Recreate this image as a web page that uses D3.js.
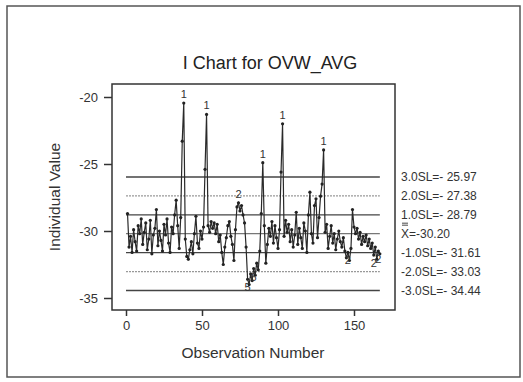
<!DOCTYPE html>
<html>
<head>
<meta charset="utf-8">
<script src="https://cdn.jsdelivr.net/npm/d3@7"></script>
<style>
  html, body { margin: 0; padding: 0; background: #fff; }
  svg { display: block; font-family: "Liberation Sans", Arial, sans-serif; }
</style>
</head>
<body>
<script>
const values = [
  -28.7, -31.2, -30.4, -31.6, -29.9, -30.8, -31.5, -29.6, -30.2, -29.1,
  -31.0, -30.1, -29.4, -31.4, -30.6, -29.2, -31.7, -30.3, -29.8, -28.4,
  -31.1, -30.0, -30.7, -31.5, -29.5, -30.3, -29.1, -30.9, -31.6, -29.7,
  -30.2, -28.8, -27.7, -29.6, -31.3, -29.0, -23.3, -20.45, -30.6, -31.9,
  -32.1, -31.4, -30.8, -31.7, -30.2, -28.9, -30.9, -31.3, -30.0, -30.6,
  -29.7, -25.4, -21.3, -29.6, -30.1, -29.3, -29.8, -29.4, -30.2, -29.5,
  -30.8, -30.3, -31.6, -32.5, -31.2, -30.5, -29.6, -29.3, -30.4, -31.0,
  -32.2, -29.9, -28.2, -27.9, -28.5, -28.1, -28.8, -29.4, -31.2, -33.6,
  -34.0, -33.2, -33.7, -32.8, -33.3, -32.4, -32.9, -31.5, -28.7, -24.9,
  -29.6, -32.4, -31.0, -29.8, -30.4, -29.3, -30.9, -29.6, -30.5, -31.3,
  -29.9, -25.6, -22.0, -30.4, -29.2, -30.1, -29.5, -30.8, -29.9, -31.2,
  -30.3, -28.6, -31.0, -29.8, -30.5, -31.3, -29.4, -30.0, -31.6, -28.8,
  -27.1, -30.2, -30.9, -28.1, -27.6, -30.5, -29.0, -27.4, -26.5, -23.95,
  -30.1, -29.5, -31.3, -30.4, -29.6, -30.9, -30.2, -31.4, -30.6, -30.0,
  -30.8, -31.2, -30.5, -31.5, -32.0, -31.6, -32.2, -31.3, -28.4, -29.7,
  -30.2, -29.8, -30.6, -30.1, -31.0, -30.4, -30.8, -30.3, -31.1, -30.6,
  -31.3, -30.9, -31.8, -31.2, -32.1, -31.5, -31.7
];

// Control / sigma lines
const limitNames = ["3.0SL", "2.0SL", "1.0SL", "X", "-1.0SL", "-2.0SL", "-3.0SL"];
const limitValues = [-25.97, -27.38, -28.79, -30.20, -31.61, -33.03, -34.44];

// Test failure flags: observation number and test id
const flagObs = [38, 53, 90, 103, 130, 74, 80, 84, 146, 163, 166];
const flagText = ["1", "1", "1", "1", "1", "2", "5", "6", "2", "2", "2"];

const xTicks = [0, 50, 100, 150];
const yTicks = [-20, -25, -30, -35];

const width = 523, height = 382;
const box = { left: 112, top: 84, right: 395, bottom: 310 };

const svg = d3.select("body").append("svg")
  .attr("width", width)
  .attr("height", height);

// outer frame
svg.append("rect")
  .attr("x", 7).attr("y", 6)
  .attr("width", 513).attr("height", 371)
  .attr("fill", "none")
  .attr("stroke", "#555")
  .attr("stroke-width", 1.5);

const x = d3.scaleLinear().domain([0, 150]).range([126, 354]);
const y = d3.scaleLinear().domain([-35, -20]).range([298, 97]);

// title
svg.append("text")
  .attr("x", 270).attr("y", 69)
  .attr("text-anchor", "middle")
  .attr("fill", "#222")
  .style("font-size", "18px")
  .text("I Chart for OVW_AVG");

// plot box
svg.append("rect")
  .attr("x", box.left).attr("y", box.top)
  .attr("width", box.right - box.left).attr("height", box.bottom - box.top)
  .attr("fill", "none")
  .attr("stroke", "#333")
  .attr("stroke-width", 1.5);

// axes
const xAxis = svg.append("g")
  .attr("transform", `translate(0, ${box.bottom})`)
  .call(d3.axisBottom(x).tickValues(xTicks).tickSize(6).tickPadding(5));
xAxis.select(".domain").remove();
xAxis.selectAll("line").attr("stroke", "#333").attr("stroke-width", 1.5);
xAxis.selectAll("text")
  .attr("fill", "#333")
  .style("font-size", "13px")
  .style("font-family", "Liberation Sans, Arial, sans-serif");

const yAxis = svg.append("g")
  .attr("transform", `translate(${box.left}, 0)`)
  .call(d3.axisLeft(y).tickValues(yTicks).tickSize(8).tickPadding(6)
    .tickFormat((d) => `${d}`));
yAxis.select(".domain").remove();
yAxis.selectAll("line").attr("stroke", "#333").attr("stroke-width", 1.5);
yAxis.selectAll("text")
  .attr("fill", "#333")
  .style("font-size", "13px")
  .style("font-family", "Liberation Sans, Arial, sans-serif");

// axis titles
svg.append("text")
  .attr("x", 253).attr("y", 358)
  .attr("text-anchor", "middle")
  .attr("fill", "#333")
  .style("font-size", "15.5px")
  .text("Observation Number");

svg.append("text")
  .attr("transform", "translate(60, 197) rotate(-90)")
  .attr("text-anchor", "middle")
  .attr("fill", "#333")
  .style("font-size", "15.5px")
  .text("Individual Value");

// control lines
const n = values.length;
const lineStyle = (i) => {
  if (i === 1 || i === 5) return { c: "#999", w: 1.2, dash: "2,1" };
  if (i === 3) return { c: "#777", w: 1.2, dash: null };
  return { c: "#444", w: 1.3, dash: null };
};
limitValues.forEach((v, i) => {
  const s = lineStyle(i);
  svg.append("path")
    .attr("d", `M${x(0)},${y(v)}H${x(n)}`)
    .attr("stroke", s.c)
    .attr("stroke-width", s.w)
    .attr("stroke-dasharray", s.dash);

  const sep = i === 3 ? "=-" : "=- ";
  svg.append("text")
    .attr("x", 401).attr("y", y(v) + 4.5)
    .attr("fill", "#333")
    .style("font-size", "12px")
    .text(`${limitNames[i]}${sep}${Math.abs(v).toFixed(2)}`);
});

// double bar above the X of the centre line label
[-10.5, -8.5].forEach((dy) => {
  svg.append("path")
    .attr("d", `M402,${y(limitValues[3]) + dy}H408`)
    .attr("stroke", "#333")
    .attr("stroke-width", 0.9);
});

// data line and points
const data = values.map((v, i) => ({ obs: i + 1, v }));
const line = d3.line()
  .x((d) => x(d.obs))
  .y((d) => y(d.v));

svg.append("path")
  .datum(data)
  .attr("fill", "none")
  .attr("stroke", "#2a2a2a")
  .attr("stroke-width", 1.2)
  .attr("d", line);

svg.append("g")
  .selectAll("circle")
  .data(data)
  .join("circle")
  .attr("cx", (d) => x(d.obs))
  .attr("cy", (d) => y(d.v))
  .attr("r", 1.6)
  .attr("fill", "#222");

// test flags
flagObs.forEach((o, i) => {
  const v = values[o - 1];
  const above = v > limitValues[3];
  svg.append("text")
    .attr("x", x(o))
    .attr("y", above ? y(v) - 5 : y(v) + 12)
    .attr("text-anchor", "middle")
    .attr("fill", "#333")
    .style("font-size", "11px")
    .text(flagText[i]);
});
</script>
</body>
</html>
